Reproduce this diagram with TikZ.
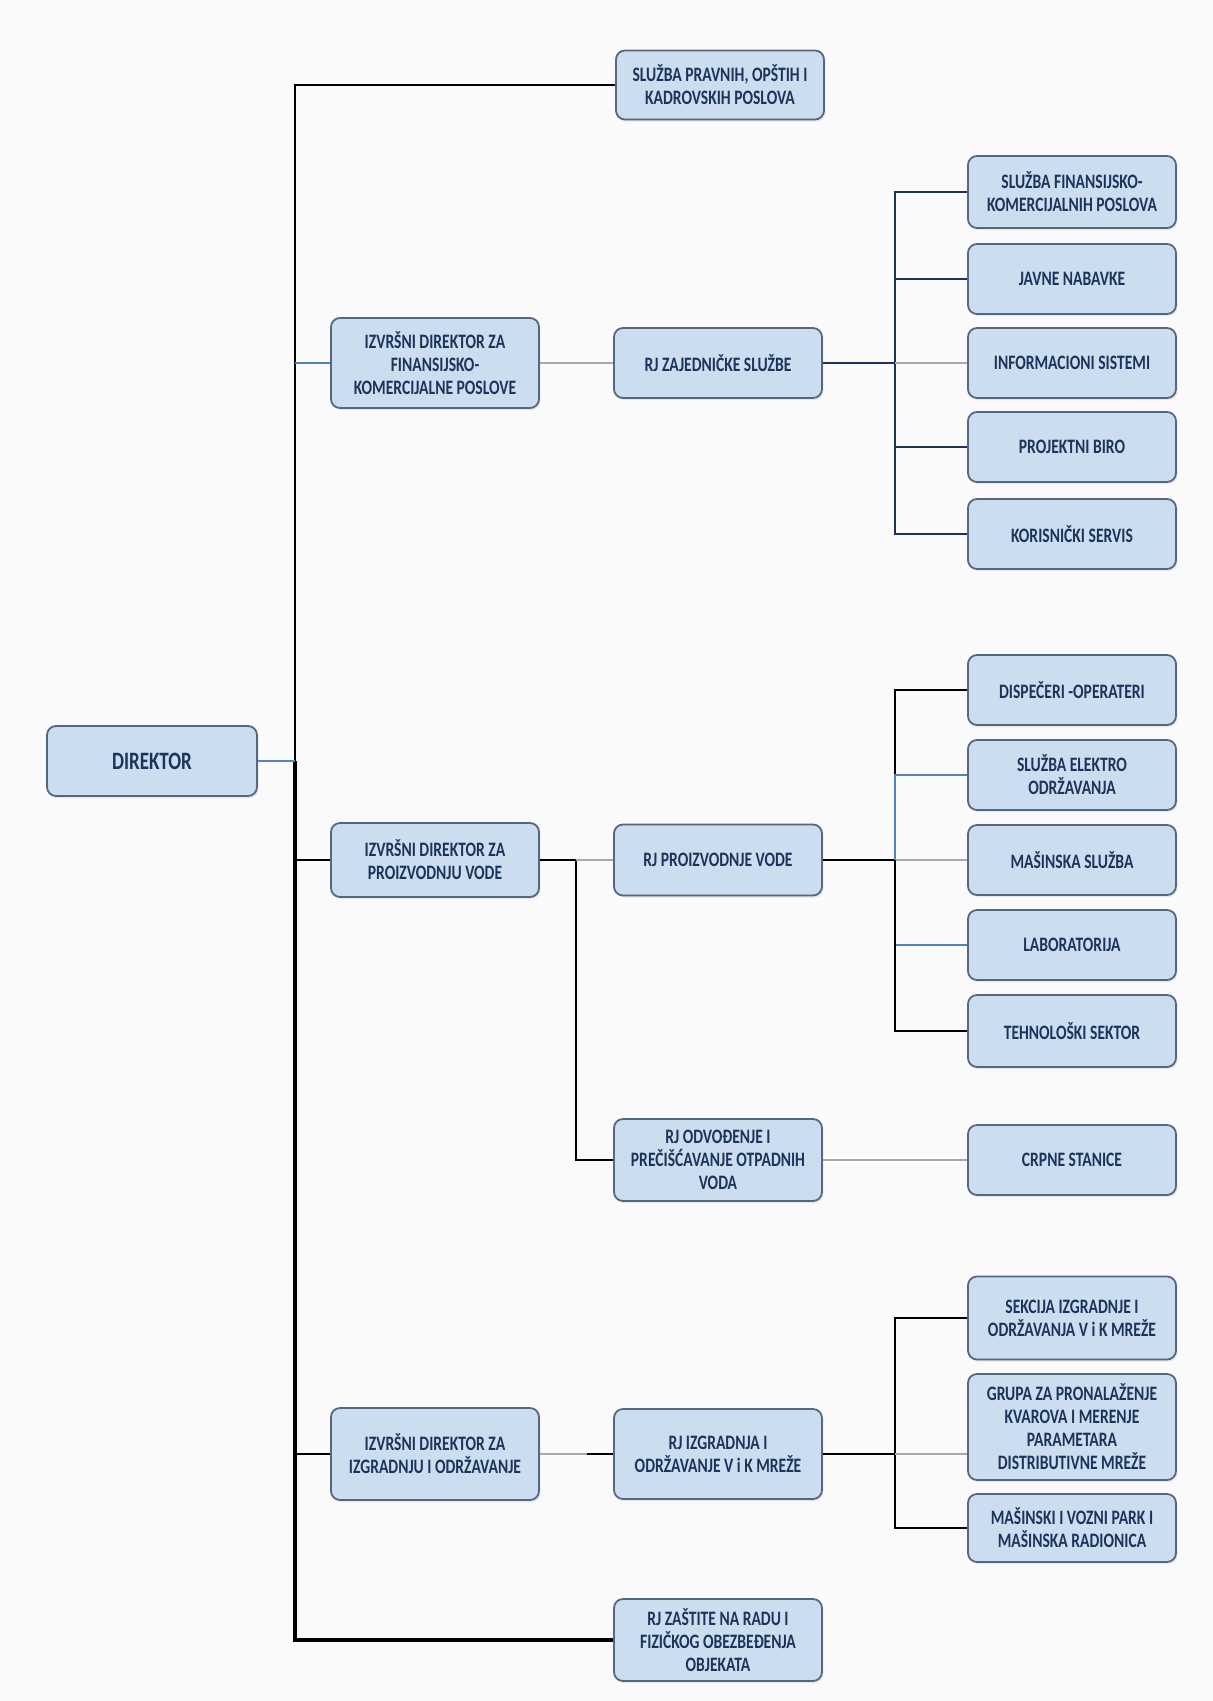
\documentclass[tikz,border=0pt]{standalone}
\usepackage{fontspec}
\usepackage{tikz}
\usetikzlibrary{positioning,shapes,shadows,calc}
\newfontfamily\orgfont[FakeStretch=0.76]{Carlito}
\definecolor{paper}{RGB}{250,250,250}
\definecolor{boxblue}{RGB}{205,221,240}
\definecolor{boxline}{RGB}{84,104,132}
\definecolor{boxtext}{RGB}{28,52,90}
\definecolor{linkgrey}{RGB}{168,168,168}
\definecolor{linkblue}{RGB}{84,130,185}
\definecolor{linknavy}{RGB}{32,50,82}

\begin{document}
\begin{tikzpicture}[x=1pt, y=-1pt, node distance=283pt,
unit/.style ={rectangle, draw=boxline, line width=1.8pt, rounded corners=9pt, fill=boxblue, text=boxtext, align=center, font=\orgfont\bfseries\fontsize{20.5}{23}\selectfont, minimum width=208pt, minimum height=70pt, inner sep=3pt, drop shadow={opacity=0.15, shadow xshift=1.5pt, shadow yshift=-2pt}},
link/.style ={-, line width=2.6pt, black},
navylink/.style ={-, line width=2.2pt, linknavy},
greylink/.style ={-, line width=2.8pt, linkgrey},
thinlink/.style ={-, line width=1.2pt, linkblue},
]

\useasboundingbox[fill=paper] (0,0) rectangle (1213,1701);

% top management
\node (DIREKTOR) [unit, minimum width=210pt, font=\orgfont\bfseries\fontsize{25}{27}\selectfont] at (152,761) {DIREKTOR};
\node (PRAVNI) [unit, minimum height=69pt] at (720,85) {SLUŽBA PRAVNIH, OPŠTIH I\\KADROVSKIH POSLOVA};

% finansije
\node (IZVFIN) [unit, minimum height=90pt] at (435,363) {IZVRŠNI DIREKTOR ZA\\FINANSIJSKO-\\KOMERCIJALNE POSLOVE};
\node (RJZAJ) [unit, right of=IZVFIN] {RJ ZAJEDNIČKE SLUŽBE};
\node (INFSIS) [unit, right of=RJZAJ, node distance=354pt] {INFORMACIONI SISTEMI};
\node (FINKOM) [unit, above of=INFSIS, node distance=171pt, minimum height=72pt] {SLUŽBA FINANSIJSKO-\\KOMERCIJALNIH POSLOVA};
\node (NABAVKE) [unit, above of=INFSIS, node distance=84pt] {JAVNE NABAVKE};
\node (BIRO) [unit, below of=INFSIS, node distance=84pt] {PROJEKTNI BIRO};
\node (SERVIS) [unit, below of=INFSIS, node distance=171pt] {KORISNIČKI SERVIS};

% proizvodnja vode
\node (IZVPROIZV) [unit, minimum height=74pt] at (435,860) {IZVRŠNI DIREKTOR ZA\\PROIZVODNJU VODE};
\node (RJPROIZV) [unit, right of=IZVPROIZV, minimum height=71pt] {RJ PROIZVODNJE VODE};
\node (MASSL) [unit, right of=RJPROIZV, node distance=354pt] {MAŠINSKA SLUŽBA};
\node (DISP) [unit, above of=MASSL, node distance=170pt] {DISPEČERI -OPERATERI};
\node (ELEKTRO) [unit, above of=MASSL, node distance=85pt] {SLUŽBA ELEKTRO\\ODRŽAVANJA};
\node (LAB) [unit, below of=MASSL, node distance=85pt] {LABORATORIJA};
\node (TEHN) [unit, below of=MASSL, node distance=171pt, minimum height=72pt] {TEHNOLOŠKI SEKTOR};
\node (RJODV) [unit, minimum height=82pt] at (718,1160) {RJ ODVOĐENJE I\\PREČIŠĆAVANJE OTPADNIH\\VODA};
\node (CRPNE) [unit, right of=RJODV, node distance=354pt] {CRPNE STANICE};

% izgradnja i odrzavanje
\node (IZVIZGR) [unit, minimum height=92pt] at (435,1454) {IZVRŠNI DIREKTOR ZA\\IZGRADNJU I ODRŽAVANJE};
\node (RJIZGR) [unit, right of=IZVIZGR, minimum height=90pt] {RJ IZGRADNJA I\\ODRŽAVANJE V i K MREŽE};
\node (GRUPA) [unit, minimum height=106pt] at (1072,1427) {GRUPA ZA PRONALAŽENJE\\KVAROVA I MERENJE\\PARAMETARA\\DISTRIBUTIVNE MREŽE};
\node (SEKCIJA) [unit, above of=GRUPA, node distance=109pt, minimum height=83pt] {SEKCIJA IZGRADNJE I\\ODRŽAVANJA V i K MREŽE};
\node (MASPARK) [unit, below of=GRUPA, node distance=101pt, minimum height=68pt] {MAŠINSKI I VOZNI PARK I\\MAŠINSKA RADIONICA};
\node (RJZASTITA) [unit, minimum height=82pt] at (718,1640) {RJ ZAŠTITE NA RADU I\\FIZIČKOG OBEZBEĐENJA\\OBJEKATA};

% junctions
\coordinate (TRUNK) at (295,761);
\coordinate (ZAJBUS) at (895,363);
\coordinate (ODVJ) at (576,860);
\coordinate (PROBUS) at (895,860);
\coordinate (IZGBUS) at (895,1454);

% main trunk
\draw[link] (PRAVNI.west) -| (TRUNK);
\draw[link, line width=3.2pt] (TRUNK) |- (RJZASTITA.west);
\draw[thinlink] (DIREKTOR) -- (TRUNK);
\draw[thinlink] (IZVFIN.west) -- (IZVFIN.west -| TRUNK);
\draw[link] (IZVPROIZV.west) -- (IZVPROIZV.west -| TRUNK);
\draw[link] (IZVIZGR.west) -- (IZVIZGR.west -| TRUNK);

% finansije links
\draw[greylink] (IZVFIN) -- (RJZAJ);
\draw[navylink] (RJZAJ) -- (ZAJBUS);
\draw[navylink] (FINKOM.west) -| (ZAJBUS) |- (SERVIS.west);
\draw[navylink] (NABAVKE.west) -- (NABAVKE.west -| ZAJBUS);
\draw[navylink] (BIRO.west) -- (BIRO.west -| ZAJBUS);
\draw[greylink] (ZAJBUS) -- (INFSIS);

% proizvodnja links
\draw[link] (IZVPROIZV) -- (ODVJ) |- (RJODV.west);
\draw[greylink] (ODVJ) -- (RJPROIZV);
\draw[link] (RJPROIZV) -- (PROBUS);
\draw[link] (DISP.west) -| (ELEKTRO.west -| PROBUS);
\draw[thinlink] (ELEKTRO.west) -| (PROBUS);
\draw[greylink] (PROBUS) -- (MASSL);
\draw[thinlink] (LAB.west) -- (LAB.west -| PROBUS);
\draw[link] (PROBUS) |- (TEHN.west);
\draw[greylink] (RJODV) -- (CRPNE);

% izgradnja links
\draw[greylink] (IZVIZGR) -- (RJIZGR);
\draw[link] ([xshift=-26pt]RJIZGR.west) -- (RJIZGR.west);
\draw[link] (RJIZGR) -- (IZGBUS);
\draw[link] (SEKCIJA.west) -| (IZGBUS) |- (MASPARK.west);
\draw[greylink] (IZGBUS) -- (IZGBUS -| GRUPA.west);

\end{tikzpicture}
\end{document}
